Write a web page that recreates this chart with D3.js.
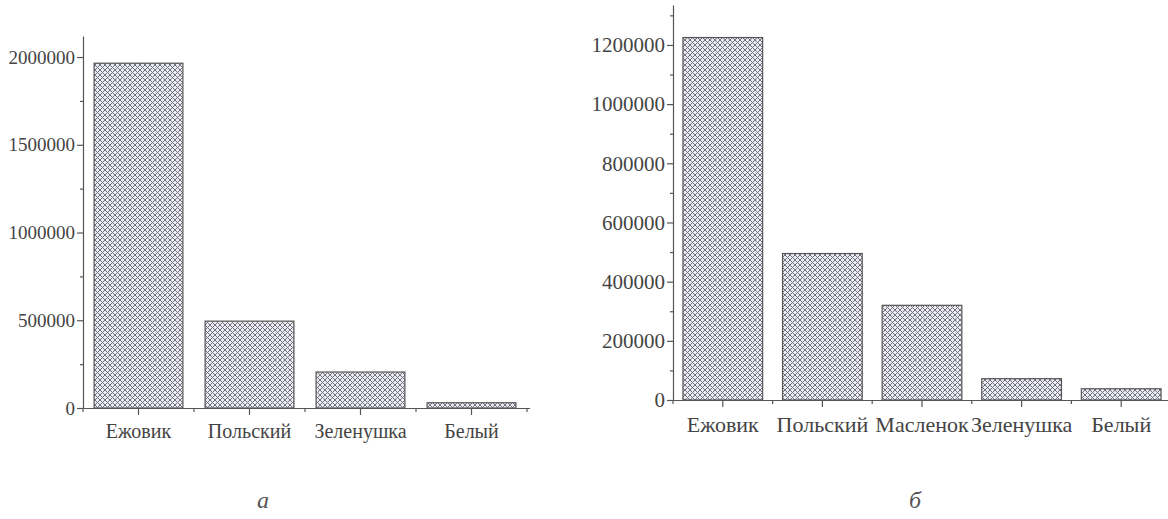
<!DOCTYPE html>
<html>
<head>
<meta charset="utf-8">
<script src="https://cdn.jsdelivr.net/npm/d3@7/dist/d3.min.js"></script>
<style>
  html, body { margin: 0; padding: 0; background: #fff; }
  svg { display: block; }
  .axis text { font-family: "Liberation Serif", "DejaVu Serif", serif; fill: #444; }
  .axis path, .axis line { stroke: #555; stroke-width: 1.2; }
</style>
</head>
<body>
<svg id="chart" width="1168" height="519"></svg>
<script>
// ---- data ----
const categoriesA = ["Ежовик", "Польский", "Зеленушка", "Белый"];
const valuesA = [1965000, 495000, 205000, 30000];
const ticksA = [0, 500000, 1000000, 1500000, 2000000];
const minorTicksA = [250000, 750000, 1250000, 1750000];

const categoriesB = ["Ежовик", "Польский", "Масленок", "Зеленушка", "Белый"];
const valuesB = [1225000, 495000, 320000, 72000, 38000];
const ticksB = [0, 200000, 400000, 600000, 800000, 1000000, 1200000];
const minorTicksB = [100000, 300000, 500000, 700000, 900000, 1100000, 1300000];

const panelLabels = ["а", "б"];

const svg = d3.select("#chart");

// crosshatch pattern
const defs = svg.append("defs");
const pat = defs.append("pattern")
  .attr("id", "hatch").attr("patternUnits", "userSpaceOnUse")
  .attr("width", 5).attr("height", 5);
pat.append("rect").attr("width", 5).attr("height", 5).attr("fill", "#ebebf3");
pat.append("path").attr("d", "M0,0 L5,5 M5,0 L0,5 M-1,4 L1,6 M4,-1 L6,1 M4,6 L6,4 M-1,1 L1,-1")
  .attr("stroke", "#737380").attr("stroke-width", 1);

function panel(cfg) {
  const g = svg.append("g");
  const x = d3.scaleBand().domain(cfg.categories)
    .range([cfg.x0, cfg.x0 + cfg.step * cfg.categories.length])
    .paddingInner(0.2).paddingOuter(0.1);
  const y = d3.scaleLinear().domain([0, cfg.yMax]).range([cfg.base, cfg.top]);

  // bars
  g.selectAll("rect.bar").data(cfg.values).join("rect")
    .attr("class", "bar")
    .attr("x", (d, i) => x(cfg.categories[i]))
    .attr("width", x.bandwidth())
    .attr("y", d => y(d))
    .attr("height", d => y(0) - y(d))
    .attr("fill", "url(#hatch)")
    .attr("stroke", "#555").attr("stroke-width", 1.2);

  // y axis major
  const ya = g.append("g").attr("class", "axis")
    .attr("transform", `translate(${cfg.x0},0)`)
    .call(d3.axisLeft(y).tickValues(cfg.ticks).tickSize(6).tickSizeOuter(0).tickPadding(2)
      .tickFormat(d3.format("d")));
  ya.selectAll("text").style("font-size", cfg.fs + "px");
  // y axis minor
  g.append("g").attr("class", "axis")
    .attr("transform", `translate(${cfg.x0},0)`)
    .call(d3.axisLeft(y).tickValues(cfg.minor).tickSize(3).tickSizeOuter(0).tickFormat(""))
    .select(".domain").remove();

  // x axis line with centered major ticks and boundary minor ticks
  const xa = g.append("g").attr("class", "axis")
    .attr("transform", `translate(0,${cfg.base})`)
    .call(d3.axisBottom(x).tickSize(7).tickSizeOuter(0).tickPadding(9));
  xa.select(".domain").attr("d", `M${cfg.x0},0.5H${cfg.xEnd}`);
  xa.selectAll("text").style("font-size", cfg.fs2 + "px");
  const bounds = d3.range(cfg.categories.length + 1).map(i => cfg.x0 + i * x.step());
  xa.selectAll("line.minor").data(bounds).join("line")
    .attr("class", "minor")
    .attr("x1", d => d).attr("x2", d => d)
    .attr("y1", 0).attr("y2", 4);

  // panel label
  g.append("text").attr("x", cfg.labelX).attr("y", 508)
    .attr("text-anchor", "middle")
    .style("font-family", "'Liberation Serif', serif").style("font-style", "italic")
    .style("font-size", "24px").attr("fill", "#555")
    .text(cfg.label);
}

panel({
  categories: categoriesA, values: valuesA, ticks: ticksA, minor: minorTicksA,
  x0: 83, step: 111, xEnd: 530, base: 408, top: 36, yMax: 2120000,
  fs: 19, fs2: 20, labelX: 263, label: panelLabels[0]
});
panel({
  categories: categoriesB, values: valuesB, ticks: ticksB, minor: minorTicksB,
  x0: 673, step: 99.6, xEnd: 1168, base: 400, top: 5, yMax: 1335000,
  fs: 21, fs2: 22, labelX: 915, label: panelLabels[1]
});
</script>
</body>
</html>
